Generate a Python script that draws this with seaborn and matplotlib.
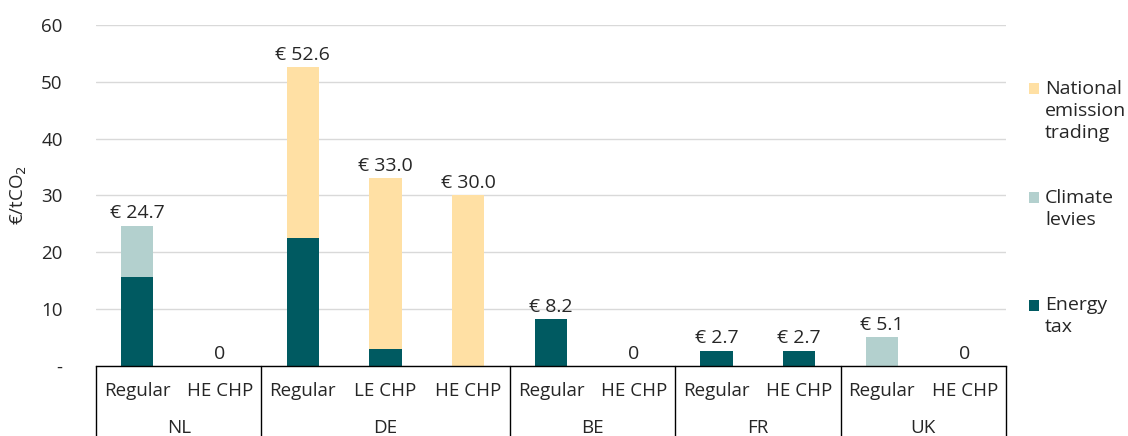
import pandas as pd
import numpy as np
import seaborn as sns
import matplotlib.pyplot as plt
from matplotlib.patches import Rectangle
from matplotlib.transforms import blended_transform_factory

# Data
countries = ["NL", "NL", "DE", "DE", "DE", "BE", "BE", "FR", "FR", "UK", "UK"]
types = ["Regular", "HE CHP", "Regular", "LE CHP", "HE CHP", "Regular", "HE CHP",
         "Regular", "HE CHP", "Regular", "HE CHP"]
energy_tax = [15.6, 0, 22.6, 3.0, 0, 8.2, 0, 2.7, 2.7, 0, 0]
climate_levies = [9.1, 0, 0, 0, 0, 0, 0, 0, 0, 5.1, 0]
national_ets = [0, 0, 30.0, 30.0, 30.0, 0, 0, 0, 0, 0, 0]
legend_labels = ["National\nemission\ntrading", "Climate\nlevies", "Energy\ntax"]

c_energy = "#005A61"
c_climate = "#B3D0CE"
c_ets = "#FFE0A4"

df = pd.DataFrame({"country": countries, "type": types,
                   "energy": energy_tax, "climate": climate_levies, "ets": national_ets})
df["key"] = df["country"] + " " + df["type"]
df["lvl1"] = df["energy"]
df["lvl2"] = df["energy"] + df["climate"]
df["total"] = df["lvl2"] + df["ets"]

sns.set_style("white")
plt.rcParams["font.family"] = ["Open Sans", "DejaVu Sans"]
plt.rcParams["font.size"] = 14

fig = plt.figure(figsize=(11.28, 4.36), dpi=100)
ax = fig.add_axes([96 / 1128, 70 / 436, 910 / 1128, 341 / 436])

order = list(df["key"])
w = 0.39
# stacked bars drawn from total downwards
sns.barplot(data=df, x="key", y="total", order=order, color=c_ets, width=w,
            saturation=1, linewidth=0, ax=ax)
sns.barplot(data=df, x="key", y="lvl2", order=order, color=c_climate, width=w,
            saturation=1, linewidth=0, ax=ax)
sns.barplot(data=df, x="key", y="lvl1", order=order, color=c_energy, width=w,
            saturation=1, linewidth=0, ax=ax)

ax.set_ylim(0, 60)
ax.set_xlim(-0.5, len(order) - 0.5)
ax.set_yticks([0, 10, 20, 30, 40, 50, 60])
ax.set_yticklabels(["-", "10", "20", "30", "40", "50", "60"])
ax.tick_params(axis="y", length=0, pad=24, labelsize=13.5)
ax.grid(axis="y", color="#D9D9D9", linewidth=1)
ax.set_axisbelow(True)
for s in ["top", "right", "left"]:
    ax.spines[s].set_visible(False)
ax.spines["bottom"].set_color("black")
ax.spines["bottom"].set_linewidth(1)
ax.set_xticks([])
ax.set_xlabel("")
ax.set_ylabel("€/tCO$_2$", fontsize=13.5, labelpad=9)

# value labels
for i, t in enumerate(df["total"]):
    lab = f"€ {t:.1f}" if t > 0 else "0"
    ax.annotate(lab, (i, t), xytext=(0, 2.5), textcoords="offset points",
                ha="center", va="bottom", fontsize=14)

# two-level category axis
tr = blended_transform_factory(ax.transData, ax.transAxes)
for i, t in enumerate(types):
    ax.text(i, -0.072, t, transform=tr, ha="center", va="center", fontsize=13.5)

bounds = [-0.5]
groups = []
for c in pd.unique(df["country"]):
    idx = np.where(df["country"] == c)[0]
    groups.append((c, idx.min(), idx.max()))
    bounds.append(idx.max() + 0.5)
for c, a, b in groups:
    ax.text((a + b) / 2, -0.183, c, transform=tr, ha="center", va="center", fontsize=13.5)
for b in bounds:
    ax.plot([b, b], [0, -0.21], transform=tr, color="black", linewidth=1, clip_on=False)

# legend, excel style (marker at first line)
leg_y = [1 - 89 / 436, 1 - 198 / 436, 1 - 305 / 436]
for lab, col, y in zip(legend_labels, [c_ets, c_climate, c_energy], leg_y):
    fig.add_artist(Rectangle((1029 / 1128, y - 5.5 / 436), 10 / 1128, 11 / 436,
                             transform=fig.transFigure, color=col, lw=0))
    fig.text(1045 / 1128, y + 9 / 436, lab, ha="left", va="top", fontsize=14,
             linespacing=1.3)

plt.savefig("out.png", dpi=100)
